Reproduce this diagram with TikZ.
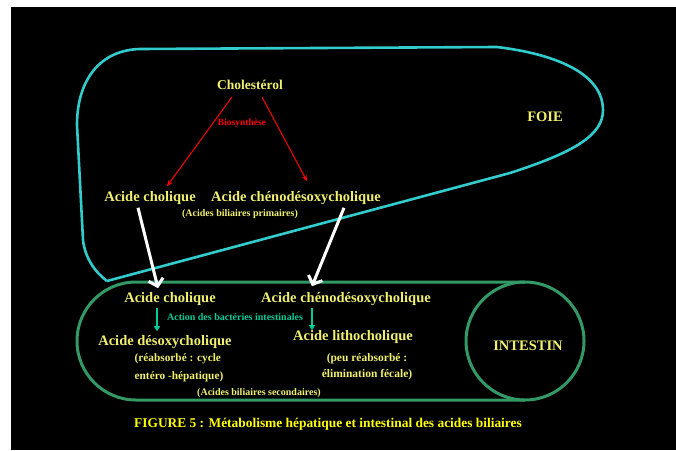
\documentclass[tikz,border=0pt]{standalone}
\usepackage{fontspec}
\setmainfont{Liberation Serif}
\usepackage{xcolor}
\usetikzlibrary{arrows.meta,positioning}
\definecolor{foiecol}{HTML}{33CCCC}
\definecolor{gutcol}{HTML}{339966}
\definecolor{bactcol}{HTML}{00CC99}
\definecolor{pale}{RGB}{240,240,110}
\definecolor{captcol}{HTML}{FFFF00}

\begin{document}
\begin{tikzpicture}[x=1pt,y=-1pt,
        big/.style={text=pale,inner sep=0pt,font=\bfseries\fontsize{14.5}{16}\selectfont},
        small/.style={text=pale,inner sep=0pt,font=\bfseries\fontsize{10}{12}\selectfont},
        synth/.style={draw=red,line width=1pt,-{Stealth[length=6pt,width=5pt]}},
        transit/.style={draw=white,line width=3pt,-{Straight Barb[length=7pt,width=15pt]}},
        bact/.style={draw=bactcol,line width=2pt,-{Triangle[length=5pt,width=6pt]}}]
    \useasboundingbox (0,0) rectangle (676,450);
    \fill[white] (0,0) rectangle (676,450);
    \fill[black] (11,7) rectangle (676,450);

    % foie
    \draw[foiecol,line width=2.6pt,line join=round]
        (107,281) -- (510,173) .. controls (575,152) and (603,135) .. (603,110)
        .. controls (603,80) and (570,56) .. (497,47) -- (140,49)
        .. controls (100,50) and (77,80) .. (77,125) -- (83,240)
        .. controls (85,258) and (95,272) .. (107,281);
    \node[big] (foie) at (545,117) {FOIE};

    % intestin
    \draw[gutcol,line width=3pt] (525,282) -- (136,282)
        arc[start angle=90,end angle=270,radius=59pt] -- (525,400);
    \draw[gutcol,line width=3pt] (525,341) circle[radius=59pt];
    \node[big] (intestin) at (528,346) {INTESTIN};

    \node[big,font=\bfseries\fontsize{13.5}{15}\selectfont] (chol) at (250,85) {Cholestérol};
    \node[small,text=red,font=\bfseries\fontsize{9.5}{11}\selectfont] (biosyn) at (242,123) {Biosynthèse};
    \node[big] (ac1) at (150,198) {Acide cholique};
    \node[big] (ac2) at (296,198) {Acide chénodésoxycholique};
    \node[small] (prim) at (240,214) {(Acides biliaires primaires)};

    \node[big] (ic1) at (170,299) {Acide cholique};
    \node[big] (ic2) at (346,299) {Acide chénodésoxycholique};
    \node[small,text=bactcol] (action) at (235,317) {Action des bactéries intestinales};
    \node[big] (idx) at (165,342) {Acide désoxycholique};
    \node[big] (ilith) at (353,337) {Acide lithocholique};
    \node[small,align=left,font=\bfseries\fontsize{11.3}{18}\selectfont] (reabs) at (179,368)
        {(réabsorbé : cycle\\entéro -hépatique)};
    \node[small,align=center,font=\bfseries\fontsize{11.5}{15.5}\selectfont] (fecal) at (367,366.5)
        {(peu réabsorbé :\\élimination fécale)};
    \node[small] (second) at (259,393) {(Acides biliaires secondaires)};

    \node[text=captcol,inner sep=0pt,font=\bfseries\fontsize{13.4}{15}\selectfont] (caption) at (328,424)
        {FIGURE 5 : Métabolisme hépatique et intestinal des acides biliaires};

    \draw[synth] ([xshift=-18pt,yshift=-7pt]chol.south) -- ([xshift=17pt,yshift=5pt]ac1.north);
    \draw[synth] ([xshift=12pt,yshift=-7pt]chol.south) -- ([xshift=11pt,yshift=10pt]ac2.north);

    \draw[transit] ([xshift=-12pt,yshift=-3pt]ac1.south) -- ([xshift=-12pt,yshift=4pt]ic1.north);
    \draw[transit] ([xshift=48pt,yshift=-3pt]ac2.south) -- ([xshift=-34pt,yshift=6pt]ic2.north);

    \draw[bact] ([xshift=-13pt,yshift=-2pt]ic1.south) -- ([xshift=-8pt,yshift=4pt]idx.north);
    \draw[bact] ([xshift=-34pt,yshift=-2pt]ic2.south) -- ([xshift=-41pt,yshift=0pt]ilith.north);
\end{tikzpicture}
\end{document}
